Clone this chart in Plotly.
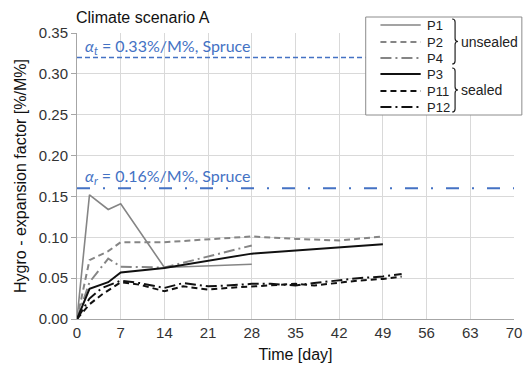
import plotly.graph_objects as go

# ---------------- data ----------------
p1_day = [0, 2, 5, 7, 14, 28]
p1_val = [0, 0.152, 0.134, 0.141, 0.063, 0.067]

p2_day = [0, 2, 5, 7, 14, 28, 35, 42, 49]
p2_val = [0, 0.072, 0.083, 0.094, 0.094, 0.101, 0.098, 0.096, 0.101]

p4_day = [0, 2, 5, 7, 14, 28]
p4_val = [0, 0.045, 0.074, 0.064, 0.063, 0.090]

p3_day = [0, 2, 5, 7, 14, 28, 49]
p3_val = [0, 0.037, 0.045, 0.057, 0.0625, 0.080, 0.0915]

p11_day = [0, 2, 4, 7, 10, 14, 17, 21, 24, 28, 31, 35, 38, 42, 45, 49, 52]
p11_val = [0, 0.018, 0.030, 0.045, 0.042, 0.034, 0.040, 0.036, 0.038, 0.040,
           0.041, 0.043, 0.041, 0.044, 0.047, 0.049, 0.052]

p12_day = [0, 2, 4, 7, 10, 14, 17, 21, 24, 28, 31, 35, 38, 42, 45, 49, 52]
p12_val = [0, 0.025, 0.038, 0.047, 0.044, 0.038, 0.044, 0.040, 0.041, 0.043,
           0.043, 0.041, 0.044, 0.047, 0.050, 0.052, 0.055]

alpha_t = 0.32
alpha_r = 0.16
ref_days = [0, 70]

x_ticks = [0, 7, 14, 21, 28, 35, 42, 49, 56, 63, 70]
y_ticks = [0.00, 0.05, 0.10, 0.15, 0.20, 0.25, 0.30, 0.35]

# ---------------- styles ----------------
GRAY = "#858585"
BLACK = "#111111"
BLUE = "#4472C4"
FONT = "Liberation Sans, Arial, sans-serif"

series = [
    ("P1", p1_day, p1_val, dict(color=GRAY, width=1.6, dash="solid")),
    ("P2", p2_day, p2_val, dict(color=GRAY, width=2, dash="6px,4px")),
    ("P4", p4_day, p4_val, dict(color=GRAY, width=2, dash="11px,4px,2px,4px")),
    ("P3", p3_day, p3_val, dict(color=BLACK, width=2, dash="solid")),
    ("P11", p11_day, p11_val, dict(color=BLACK, width=2, dash="6px,4px")),
    ("P12", p12_day, p12_val, dict(color=BLACK, width=2, dash="11px,4px,2px,4px")),
]

fig = go.Figure()

# reference lines
fig.add_trace(go.Scatter(x=ref_days, y=[alpha_t, alpha_t], mode="lines",
                         line=dict(color=BLUE, width=1.6, dash="5px,3px"),
                         showlegend=False, hoverinfo="skip"))
fig.add_trace(go.Scatter(x=ref_days, y=[alpha_r, alpha_r], mode="lines",
                         line=dict(color=BLUE, width=1.8, dash="13px,13px,2px,13px"),
                         showlegend=False, hoverinfo="skip"))

for name, d, v, ln in series:
    fig.add_trace(go.Scatter(x=d, y=v, mode="lines", name=name, line=ln,
                             showlegend=False))

# ---------------- layout geometry ----------------
W, H = 531, 369
L, R, T, B = 77, 522, 33, 319


def xp(px):
    return (px - L) / (R - L)


def yp(py):
    return (B - py) / (B - T)


shapes = []
annotations = []

# manual legend box
shapes.append(dict(type="rect", xref="paper", yref="paper",
                   x0=xp(371), x1=xp(530), y0=yp(115), y1=yp(17),
                   line=dict(color="#8c8c8c", width=1), fillcolor="white",
                   layer="above"))
rows = [25, 42, 58, 74, 91, 107]
for (name, d, v, ln), ry in zip(series, rows):
    shapes.append(dict(type="line", xref="paper", yref="paper",
                       x0=xp(386), x1=xp(427), y0=yp(ry), y1=yp(ry),
                       line=dict(color=ln["color"], width=ln["width"], dash=ln["dash"]),
                       layer="above"))
    annotations.append(dict(text=name, xref="paper", yref="paper",
                            x=xp(431), y=yp(ry), xanchor="left", yanchor="middle",
                            showarrow=False, font=dict(family=FONT, size=13, color="#222")))


def brace(x0, y1, y2, w=6):
    m = (y1 + y2) / 2
    h = x0 + w / 2
    pts = [
        ("M", [(x0, y1)]),
        ("Q", [(h, y1), (h, y1 + 3)]),
        ("L", [(h, m - 3)]),
        ("Q", [(h, m), (x0 + w, m)]),
        ("Q", [(h, m), (h, m + 3)]),
        ("L", [(h, y2 - 3)]),
        ("Q", [(h, y2), (x0, y2)]),
    ]
    s = ""
    for cmd, pp in pts:
        s += cmd + " " + " ".join(f"{xp(a):.5f},{yp(b):.5f}" for a, b in pp) + " "
    return s.strip()


for (yy1, yy2, label, ly) in [(19, 64, "unsealed", 42), (68, 112, "sealed", 90)]:
    shapes.append(dict(type="path", xref="paper", yref="paper",
                       path=brace(459, yy1, yy2), line=dict(color="#222", width=1.2),
                       layer="above"))
    annotations.append(dict(text=label, xref="paper", yref="paper",
                            x=xp(466), y=yp(ly), xanchor="left", yanchor="middle",
                            showarrow=False, font=dict(family=FONT, size=14, color="#222")))

# reference labels
annotations.append(dict(text="<i>α</i><sub><i>t</i></sub> = 0.33%/M%, Spruce",
                        x=1.0, y=0.333, xref="x", yref="y", xanchor="left",
                        yanchor="middle", showarrow=False,
                        font=dict(family="Lato, sans-serif", size=16, color=BLUE)))
annotations.append(dict(text="<i>α</i><sub><i>r</i></sub> = 0.16%/M%, Spruce",
                        x=1.0, y=0.175, xref="x", yref="y", xanchor="left",
                        yanchor="middle", showarrow=False,
                        font=dict(family="Lato, sans-serif", size=16, color=BLUE)))

# title
annotations.append(dict(text="Climate scenario A", xref="paper", yref="paper",
                        x=xp(74), y=yp(18), xanchor="left", yanchor="middle",
                        showarrow=False, font=dict(family=FONT, size=16, color="#111")))

fig.update_layout(
    width=W, height=H,
    margin=dict(l=L, r=W - R, t=T, b=H - B, pad=0),
    paper_bgcolor="white", plot_bgcolor="white",
    font=dict(family=FONT, size=15, color="#333"),
    showlegend=False,
    shapes=shapes, annotations=annotations,
    xaxis=dict(range=[0, 70], tickvals=x_ticks, ticktext=[str(t) for t in x_ticks],
               showgrid=True, gridcolor="#d9d9d9", gridwidth=1, zeroline=False,
               showline=True, linecolor="#a6a6a6", linewidth=1,
               ticks="", tickfont=dict(size=15, color="#333"),
               title=dict(text="Time [day]", font=dict(size=16, color="#111"), standoff=8)),
    yaxis=dict(range=[0, 0.35], tickvals=y_ticks, tickformat=".2f",
               showgrid=True, gridcolor="#d9d9d9", gridwidth=1, zeroline=False,
               showline=True, linecolor="#a6a6a6", linewidth=1,
               ticks="outside", ticklen=5, tickcolor="#a6a6a6",
               tickfont=dict(size=15, color="#333"),
               title=dict(text="Hygro - expansion factor [%/M%]",
                          font=dict(size=16, color="#111"), standoff=8)),
)

fig.write_html("out.html", config={"displayModeBar": False},
               post_script="document.body.style.margin='0';document.body.style.overflow='hidden';")
